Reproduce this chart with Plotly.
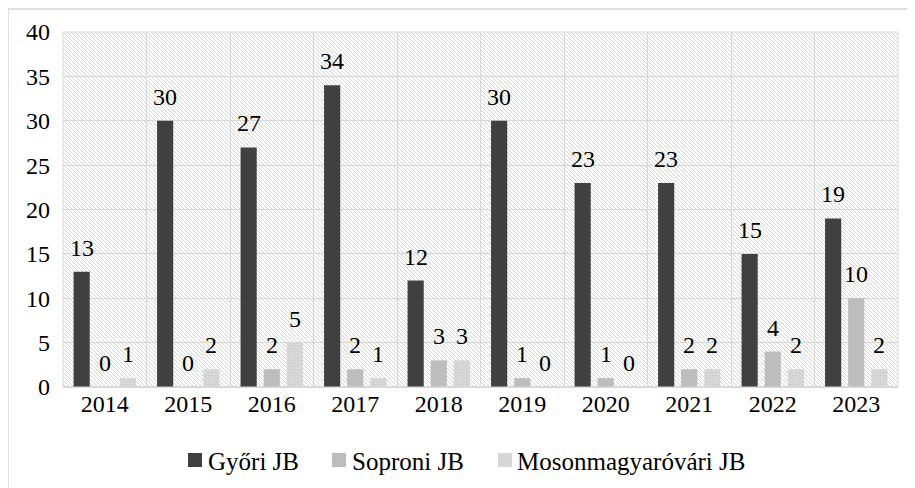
import base64
import plotly.graph_objects as go

years = ["2014", "2015", "2016", "2017", "2018", "2019", "2020", "2021", "2022", "2023"]
gyori = [13, 30, 27, 34, 12, 30, 23, 23, 15, 19]
soproni = [0, 0, 2, 2, 3, 1, 1, 2, 4, 10]
moson = [1, 2, 5, 1, 3, 0, 0, 2, 2, 2]
series_names = ["Győri JB", "Soproni JB", "Mosonmagyaróvári JB"]
y_ticks = [0, 5, 10, 15, 20, 25, 30, 35, 40]

FONT = "'Liberation Serif', 'Times New Roman', Times, serif"
FS = 24
LFS = 25
colors = ["#404040", "#bdbdbd", "#d6d6d6"]

# plot area geometry (figure pixels; page adds 8px body margin)
L, T, PW, PH = 55, 24, 835, 355
W, H = 915, 488
BARGAP = 0.17

svg = (
    f"<svg xmlns='http://www.w3.org/2000/svg' width='{PW}' height='{PH}'>"
    "<defs><pattern id='p' width='4' height='4' patternUnits='userSpaceOnUse'>"
    "<path d='M-1,-1 L5,5 M3,-1 L5,1 M-1,3 L1,5' stroke='#d6d6d6' stroke-width='1'/>"
    "</pattern></defs>"
    "<rect width='100%' height='100%' fill='white'/>"
    "<rect width='100%' height='100%' fill='url(#p)'/></svg>"
)
svg_uri = "data:image/svg+xml;base64," + base64.b64encode(svg.encode()).decode()

fig = go.Figure()
fig.add_trace(go.Bar(
    x=years, y=gyori, name=series_names[0],
    marker=dict(color=colors[0], line=dict(width=0)),
))
fig.add_trace(go.Bar(
    x=years, y=soproni, name=series_names[1],
    marker=dict(color=colors[1], line=dict(width=0)),
))
fig.add_trace(go.Bar(
    x=years, y=moson, name=series_names[2],
    marker=dict(color=colors[2], line=dict(width=0),
                pattern=dict(shape=".", fgcolor="#c4c4c4", bgcolor="#d9d9d9", size=3, solidity=0.4)),
))

def px_x(fx):
    return (fx - L) / PW

def px_y(fy):
    return (T + PH - fy) / PH

# value labels above bars (x given as category index)
slot = PW / len(years) * (1 - BARGAP) / 3
annotations = []
for i, vals in enumerate([gyori, soproni, moson]):
    for k, v in enumerate(vals):
        annotations.append(dict(
            x=k, y=v, xref="x", yref="y", text=str(v), showarrow=False,
            xshift=(i - 1) * slot, yshift=9, yanchor="bottom", xanchor="center",
            font=dict(family=FONT, size=FS, color="#000000"),
        ))

# legend drawn as swatches + text (figure pixel positions)
leg_marker_x = [180, 324, 490]
leg_text_x = [198, 342, 507]
leg_y0, leg_y1, leg_ty = 445, 459, 453
shapes = []
for name, c, mx, tx in zip(series_names, colors, leg_marker_x, leg_text_x):
    shapes.append(dict(type="rect", xref="paper", yref="paper",
                       x0=px_x(mx), x1=px_x(mx + 14), y0=px_y(leg_y1), y1=px_y(leg_y0),
                       fillcolor=c, line=dict(width=0)))
    annotations.append(dict(x=px_x(tx), y=px_y(leg_ty), xref="paper", yref="paper",
                            text=name, showarrow=False, xanchor="left", yanchor="middle",
                            font=dict(family=FONT, size=LFS, color="#000000")))

shapes += [
    dict(type="rect", xref="paper", yref="paper", x0=0, x1=1, y0=0, y1=1,
         line=dict(color="#d9d9d9", width=1), fillcolor="rgba(0,0,0,0)", layer="above"),
    dict(type="line", xref="paper", yref="paper", x0=px_x(0), x1=1.5,
         y0=px_y(1), y1=px_y(1), line=dict(color="#e0e0e0", width=2)),
    dict(type="line", xref="paper", yref="paper", x0=px_x(0), x1=px_x(0),
         y0=px_y(1), y1=-1, line=dict(color="#e0e0e0", width=2)),
]

fig.update_layout(
    width=W, height=H,
    margin=dict(l=L, r=W - L - PW, t=T, b=H - T - PH, autoexpand=False),
    paper_bgcolor="white", plot_bgcolor="white",
    font=dict(family=FONT, size=FS, color="#000000"),
    barmode="group", bargap=BARGAP, bargroupgap=0.3,
    showlegend=False,
    xaxis=dict(type="category", categoryarray=years, categoryorder="array",
               range=[-0.5, len(years) - 0.5],
               tickson="boundaries", showgrid=True, gridcolor="#d9d9d9",
               gridwidth=1, ticks="", showline=False, zeroline=False, automargin=False,
               tickangle=0, tickfont=dict(family=FONT, size=FS)),
    yaxis=dict(range=[0, 40], tickvals=y_ticks, showgrid=True, gridcolor="#d9d9d9",
               gridwidth=1, zeroline=True, zerolinecolor="#d9d9d9", showline=False,
               ticks="", ticklabelstandoff=12, automargin=False,
               tickfont=dict(family=FONT, size=FS)),
    annotations=annotations,
    images=[dict(source=svg_uri, xref="paper", yref="paper", x=0, y=1, sizex=1, sizey=1,
                 sizing="stretch", layer="below", xanchor="left", yanchor="top")],
    shapes=shapes,
)

fig.write_html("out.html")
